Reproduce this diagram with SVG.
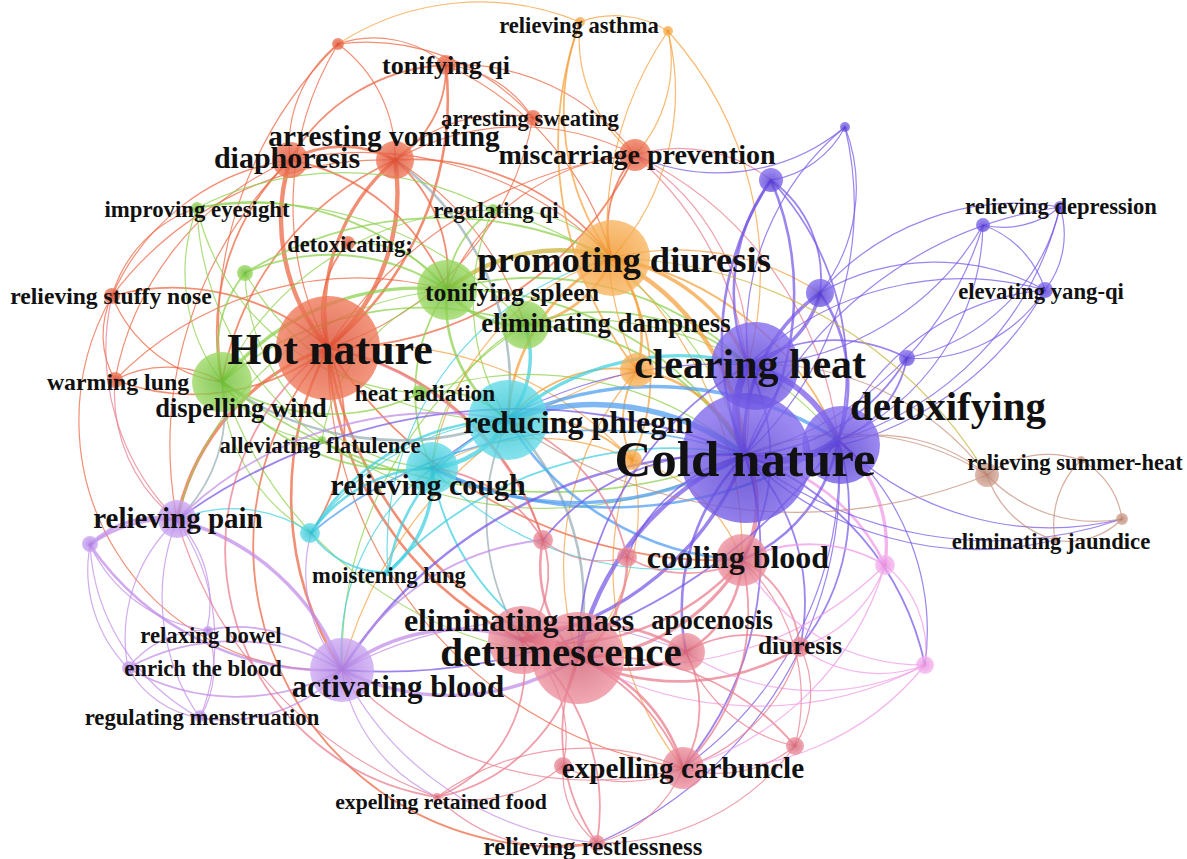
<svg xmlns="http://www.w3.org/2000/svg" width="1187" height="859" viewBox="0 0 1187 859">
<defs>
<radialGradient id="gR"><stop offset="0" stop-color="#d9452a"/><stop offset="1" stop-color="#ef7858"/></radialGradient>
<radialGradient id="gG"><stop offset="0" stop-color="#64b82a"/><stop offset="1" stop-color="#9bd862"/></radialGradient>
<radialGradient id="gO"><stop offset="0" stop-color="#f0901e"/><stop offset="1" stop-color="#f8b460"/></radialGradient>
<radialGradient id="gC"><stop offset="0" stop-color="#22bccc"/><stop offset="1" stop-color="#62dbe8"/></radialGradient>
<radialGradient id="gP" cx="0.5" cy="0.6"><stop offset="0" stop-color="#4a32cc"/><stop offset="1" stop-color="#7e66ec"/></radialGradient>
<radialGradient id="gL"><stop offset="0" stop-color="#a878e0"/><stop offset="1" stop-color="#cba6f2"/></radialGradient>
<radialGradient id="gK"><stop offset="0" stop-color="#cf5a6e"/><stop offset="1" stop-color="#ee909e"/></radialGradient>
<radialGradient id="gM"><stop offset="0" stop-color="#e48ada"/><stop offset="1" stop-color="#f6b6f0"/></radialGradient>
<radialGradient id="gB"><stop offset="0" stop-color="#b27a66"/><stop offset="1" stop-color="#d4a694"/></radialGradient>
<style>
#edges path{fill:none;stroke-opacity:.72;stroke-linecap:round}
.r{stroke:#ec6440}.g{stroke:#8cd04a}.o{stroke:#f5a03a}.c{stroke:#3ccee0}.p{stroke:#7656e6}
.l{stroke:#c08ae8}.k{stroke:#e97a8a}.m{stroke:#f098e6}.n{stroke:#c58e7a}.y{stroke:#c8b030}
.s{stroke:#98adb6}.u{stroke:#4c9cf0}
.w1{stroke-width:1.2}.w2{stroke-width:1.8}.w3{stroke-width:2.6}.w4{stroke-width:3.4}.w5{stroke-width:4.4}.w6{stroke-width:5.6}.w8{stroke-width:7.5}
.nd circle{fill-opacity:.78}
.nd text{font-family:"Liberation Serif","Times New Roman",serif;font-weight:bold;fill:#111;text-anchor:middle}
</style>
</defs>
<rect width="1187" height="859" fill="#fff"/>
<g id="edges">
<!-- red -->
<path class="r w5" d="M328 348A200 200 0 0 1 290 160"/>
<path class="r w5" d="M328 348A210 210 0 0 0 395 160"/>
<path class="r w4" d="M328 348A200 200 0 0 1 395 160"/>
<path class="r w3" d="M328 348A320 320 0 0 0 446 65"/>
<path class="r w2" d="M328 348A230 230 0 0 0 112 296"/>
<path class="r w2" d="M328 348A220 220 0 0 1 115 380"/>
<path class="r w2" d="M328 348A105 105 0 0 1 348 243"/>
<path class="r w1" d="M328 348A300 300 0 0 0 533 118"/>
<path class="r w1" d="M328 348A310 310 0 0 1 338 44"/>
<path class="r w2" d="M328 348A340 340 0 0 0 635 155"/>
<path class="r w3" d="M328 348A320 320 0 0 0 342 670"/>
<path class="r w4" d="M328 348A230 230 0 0 0 177 520"/>
<path class="r w3" d="M328 348A400 400 0 0 0 578 658"/>
<path class="r w3" d="M328 348A340 340 0 0 0 522 640"/>
<path class="r w2" d="M328 348A470 470 0 0 0 742 560"/>
<path class="r w2" d="M328 348A300 300 0 0 0 597 843"/>
<path class="r w2" d="M328 348A280 280 0 0 1 543 540"/>
<path class="r w1" d="M328 348A420 420 0 0 0 683 768"/>
<path class="r w2" d="M328 348A190 190 0 0 1 311 533"/>
<path class="r w3" d="M290 160A110 110 0 0 1 395 160"/>
<path class="r w2" d="M290 160A190 190 0 0 1 446 65"/>
<path class="r w1" d="M290 160A130 130 0 0 1 338 44"/>
<path class="r w1" d="M290 160A230 230 0 0 0 112 296"/>
<path class="r w1" d="M290 160A300 300 0 0 0 115 380"/>
<path class="r w2" d="M290 160A240 240 0 0 0 222 382"/>
<path class="r w2" d="M290 160A210 210 0 0 1 447 290"/>
<path class="r w1" d="M290 160A350 350 0 0 1 612 258"/>
<path class="r w1" d="M290 160A400 400 0 0 0 177 520"/>
<path class="r w2" d="M395 160A110 110 0 0 0 446 65"/>
<path class="r w1" d="M395 160A140 140 0 0 0 338 44"/>
<path class="r w2" d="M395 160A250 250 0 0 1 612 258"/>
<path class="r w2" d="M395 160A150 150 0 0 1 447 290"/>
<path class="r w2" d="M395 160A300 300 0 0 0 222 382"/>
<path class="r w1" d="M395 160A250 250 0 0 1 635 155"/>
<path class="s w3" d="M395 160A280 280 0 0 1 508 420"/>
<path class="r w1" d="M395 160A150 150 0 0 1 533 118"/>
<path class="r w1" d="M395 160A340 340 0 0 0 112 296"/>
<path class="r w1" d="M395 160A300 300 0 0 1 525 325"/>
<path class="r w1" d="M446 65A110 110 0 0 0 338 44"/>
<path class="r w1" d="M446 65A115 115 0 0 1 533 118"/>
<path class="r w1" d="M446 65A220 220 0 0 1 635 155"/>
<path class="r w1" d="M446 65A300 300 0 0 1 612 258"/>
<path class="o w1" d="M338 44A260 260 0 0 1 580 22"/>
<path class="r w1" d="M338 44A220 220 0 0 1 533 118"/>
<path class="r w1" d="M338 44A400 400 0 0 0 222 382"/>
<path class="r w2" d="M635 155A110 110 0 0 0 612 258"/>
<path class="k w1" d="M635 155A330 330 0 0 1 745 455"/>
<path class="k w1" d="M635 155A240 240 0 0 1 748 365"/>
<path class="k w1" d="M635 155A150 150 0 0 1 771 180"/>
<path class="k w1" d="M635 155A360 360 0 0 1 838 440"/>
<path class="r w1" d="M635 155A220 220 0 0 0 447 290"/>
<path class="r w1" d="M635 155A420 420 0 0 0 328 348"/>
<path class="r w1" d="M112 296A90 90 0 0 0 115 380"/>
<path class="r w1" d="M112 296A140 140 0 0 0 222 382"/>
<path class="r w1" d="M112 296A130 130 0 0 1 197 208"/>
<path class="k w1" d="M112 296A240 240 0 0 0 177 520"/>
<path class="r w1" d="M112 296A250 250 0 0 0 342 670"/>
<path class="r w1" d="M115 380A110 110 0 0 1 222 382"/>
<path class="k w1" d="M115 380A160 160 0 0 0 177 520"/>
<path class="r w1" d="M115 380A340 340 0 0 1 447 290"/>
<!-- green -->
<path class="g w4" d="M447 290A90 90 0 0 0 525 325"/>
<path class="y w5" d="M447 290A180 180 0 0 1 612 258"/>
<path class="g w4" d="M447 290A250 250 0 0 0 222 382"/>
<path class="g w3" d="M447 290A140 140 0 0 0 508 420"/>
<path class="g w2" d="M447 290A180 180 0 0 0 432 468"/>
<path class="g w2" d="M447 290A330 330 0 0 1 745 455"/>
<path class="g w2" d="M447 290A310 310 0 0 1 748 365"/>
<path class="g w2" d="M447 290A260 260 0 0 0 197 208"/>
<path class="g w2" d="M447 290A100 100 0 0 1 493 210"/>
<path class="g w2" d="M447 290A210 210 0 0 0 245 273"/>
<path class="g w1" d="M447 290A110 110 0 0 0 348 243"/>
<path class="g w1" d="M447 290A190 190 0 0 0 322 440"/>
<path class="g w1" d="M447 290A300 300 0 0 0 177 520"/>
<path class="o w3" d="M525 325A110 110 0 0 0 612 258"/>
<path class="c w4" d="M525 325A100 100 0 0 1 508 420"/>
<path class="g w2" d="M525 325A260 260 0 0 1 745 455"/>
<path class="g w2" d="M525 325A230 230 0 0 1 748 365"/>
<path class="g w2" d="M525 325A310 310 0 0 0 222 382"/>
<path class="g w1" d="M525 325A170 170 0 0 0 432 468"/>
<path class="g w1" d="M525 325A330 330 0 0 1 838 440"/>
<path class="g w1" d="M525 325A400 400 0 0 0 342 670"/>
<path class="g w1" d="M222 382A180 180 0 0 1 197 208"/>
<path class="g w2" d="M222 382A120 120 0 0 1 245 273"/>
<path class="s w3" d="M222 382A300 300 0 0 0 508 420"/>
<path class="g w2" d="M222 382A230 230 0 0 0 432 468"/>
<path class="g w2" d="M222 382A200 200 0 0 0 420 393"/>
<path class="g w1" d="M222 382A120 120 0 0 0 322 440"/>
<path class="g w2" d="M222 382A540 540 0 0 0 745 455"/>
<path class="s w2" d="M222 382A150 150 0 0 1 177 520"/>
<path class="g w1" d="M222 382A180 180 0 0 0 311 533"/>
<path class="g w1" d="M222 382A400 400 0 0 0 578 658"/>
<path class="g w1" d="M222 382A300 300 0 0 1 493 210"/>
<path class="g w1" d="M197 208A320 320 0 0 1 493 210"/>
<path class="g w1" d="M197 208A360 360 0 0 1 525 325"/>
<path class="g w1" d="M197 208A300 300 0 0 0 322 440"/>
<path class="g w1" d="M197 208A240 240 0 0 0 420 393"/>
<path class="g w2" d="M245 273A380 380 0 0 1 612 258"/>
<path class="g w1" d="M245 273A300 300 0 0 0 508 420"/>
<path class="g w1" d="M245 273A200 200 0 0 0 432 468"/>
<path class="g w1" d="M493 210A140 140 0 0 1 612 258"/>
<path class="g w1" d="M493 210A350 350 0 0 1 745 455"/>
<path class="g w1" d="M493 210A220 220 0 0 0 508 420"/>
<path class="g w2" d="M420 393A100 100 0 0 1 508 420"/>
<path class="g w1" d="M322 440A130 130 0 0 0 432 468"/>
<path class="g w1" d="M322 440A400 400 0 0 0 745 455"/>
<path class="g w1" d="M420 393A330 330 0 0 1 745 455"/>
<!-- orange -->
<path class="o w4" d="M612 258A180 180 0 0 1 748 365"/>
<path class="o w5" d="M612 258A240 240 0 0 1 745 455"/>
<path class="o w3" d="M612 258A120 120 0 0 1 637 370"/>
<path class="o w2" d="M612 258A250 250 0 0 1 580 22"/>
<path class="o w1" d="M612 258A250 250 0 0 0 668 31"/>
<path class="o w3" d="M612 258A190 190 0 0 0 508 420"/>
<path class="o w2" d="M612 258A300 300 0 0 1 838 440"/>
<path class="o w2" d="M612 258A200 200 0 0 1 632 460"/>
<path class="o w1" d="M612 258A260 260 0 0 0 432 468"/>
<path class="o w1" d="M612 258A400 400 0 0 1 742 560"/>
<path class="o w1" d="M612 258A260 260 0 0 1 820 293"/>
<path class="o w1" d="M580 22A100 100 0 0 1 668 31"/>
<path class="o w1" d="M580 22A150 150 0 0 0 635 155"/>
<path class="o w2" d="M580 22A360 360 0 0 0 637 370"/>
<path class="o w1" d="M668 31A350 350 0 0 0 637 370"/>
<path class="o w1" d="M668 31A360 360 0 0 1 748 365"/>
<path class="o w1" d="M668 31A140 140 0 0 1 635 155"/>
<path class="o w3" d="M637 370A140 140 0 0 1 745 455"/>
<path class="o w2" d="M637 370A140 140 0 0 0 508 420"/>
<path class="o w2" d="M637 370A95 95 0 0 0 632 460"/>
<path class="o w1" d="M637 370A420 420 0 0 0 342 670"/>
<path class="o w1" d="M637 370A300 300 0 0 0 578 658"/>
<path class="o w2" d="M632 460A140 140 0 0 0 508 420"/>
<path class="o w1" d="M632 460A210 210 0 0 0 432 468"/>
<path class="o w1" d="M632 460A210 210 0 0 1 578 658"/>
<path class="o w1" d="M632 460A160 160 0 0 1 742 560"/>
<path class="o w1" d="M632 460A320 320 0 0 0 683 768"/>
<path class="o w1" d="M632 460A350 350 0 0 0 328 348"/>
<!-- cyan / blue -->
<path class="u w6" d="M508 420A250 250 0 0 1 745 455"/>
<path class="c w4" d="M508 420A260 260 0 0 1 748 365"/>
<path class="c w5" d="M508 420A100 100 0 0 1 432 468"/>
<path class="c w3" d="M508 420A230 230 0 0 0 311 533"/>
<path class="c w3" d="M508 420A200 200 0 0 0 388 572"/>
<path class="u w4" d="M508 420A340 340 0 0 1 838 440"/>
<path class="s w3" d="M508 420A260 260 0 0 1 578 658"/>
<path class="s w2" d="M508 420A230 230 0 0 0 522 640"/>
<path class="u w3" d="M508 420A290 290 0 0 0 742 560"/>
<path class="c w3" d="M432 468A150 150 0 0 0 311 533"/>
<path class="c w4" d="M432 468A120 120 0 0 1 388 572"/>
<path class="u w4" d="M432 468A320 320 0 0 0 745 455"/>
<path class="c w2" d="M432 468A250 250 0 0 0 578 658"/>
<path class="c w1" d="M432 468A230 230 0 0 0 342 670"/>
<path class="c w2" d="M311 533A90 90 0 0 0 388 572"/>
<path class="c w1" d="M311 533A140 140 0 0 0 177 520"/>
<path class="u w2" d="M311 533A450 450 0 0 1 745 455"/>
<path class="c w2" d="M388 572A390 390 0 0 1 745 455"/>
<path class="u w3" d="M432 468A420 420 0 0 0 838 440"/>
<path class="c w1" d="M311 533A260 260 0 0 1 508 420"/>
<path class="c w1" d="M388 572A300 300 0 0 1 612 258"/>
<path class="c w1" d="M432 468A320 320 0 0 0 742 560"/>
<!-- purple -->
<path class="p w8" d="M745 455A100 100 0 0 1 748 365"/>
<path class="p w8" d="M745 455A100 100 0 0 0 838 440"/>
<path class="p w6" d="M748 365A130 130 0 0 1 838 440"/>
<path class="p w4" d="M745 455A180 180 0 0 1 820 293"/>
<path class="p w3" d="M745 455A290 290 0 0 1 771 180"/>
<path class="p w3" d="M745 455A290 290 0 0 0 771 180"/>
<path class="p w4" d="M748 365A100 100 0 0 0 820 293"/>
<path class="p w3" d="M748 365A190 190 0 0 1 771 180"/>
<path class="p w3" d="M838 440A160 160 0 0 0 820 293"/>
<path class="p w2" d="M838 440A280 280 0 0 0 771 180"/>
<path class="p w2" d="M820 293A120 120 0 0 0 771 180"/>
<path class="p w1" d="M771 180A100 100 0 0 0 845 127"/>
<path class="p w1" d="M748 365A270 270 0 0 1 845 127"/>
<path class="p w1" d="M820 293A170 170 0 0 0 845 127"/>
<path class="p w1" d="M745 455A340 340 0 0 0 845 127"/>
<path class="p w1" d="M635 155A200 200 0 0 0 845 127"/>
<path class="p w1" d="M745 455A340 340 0 0 0 983 225"/>
<path class="p w1" d="M745 455A400 400 0 0 1 1060 207"/>
<path class="p w1" d="M745 455A330 330 0 0 0 1045 290"/>
<path class="p w1" d="M748 365A280 280 0 0 0 983 225"/>
<path class="p w1" d="M748 365A310 310 0 0 1 1045 290"/>
<path class="p w1" d="M838 440A240 240 0 0 0 983 225"/>
<path class="p w1" d="M838 440A320 320 0 0 0 1060 207"/>
<path class="p w1" d="M838 440A250 250 0 0 1 1045 290"/>
<path class="p w1" d="M983 225A90 90 0 0 0 1060 207"/>
<path class="p w1" d="M983 225A100 100 0 0 1 1045 290"/>
<path class="p w1" d="M1060 207A90 90 0 0 1 1045 290"/>
<path class="p w1" d="M820 293A230 230 0 0 1 1045 290"/>
<path class="p w1" d="M820 293A260 260 0 0 1 1060 207"/>
<path class="p w2" d="M745 455A200 200 0 0 0 907 358"/>
<path class="p w2" d="M748 365A160 160 0 0 1 907 358"/>
<path class="p w2" d="M838 440A110 110 0 0 0 907 358"/>
<path class="p w1" d="M907 358A150 150 0 0 0 1045 290"/>
<path class="p w1" d="M907 358A200 200 0 0 0 1060 207"/>
<path class="k w5" d="M745 455A110 110 0 0 1 742 560"/>
<path class="p w5" d="M745 455A280 280 0 0 0 578 658"/>
<path class="p w4" d="M745 455A300 300 0 0 1 522 640"/>
<path class="p w3" d="M745 455A460 460 0 0 0 342 670"/>
<path class="p w3" d="M745 455A220 220 0 0 0 686 652"/>
<path class="p w2" d="M745 455A210 210 0 0 1 800 647"/>
<path class="p w2" d="M745 455A330 330 0 0 1 683 768"/>
<path class="m w3" d="M745 455A200 200 0 0 1 885 565"/>
<path class="p w2" d="M745 455A290 290 0 0 1 925 665"/>
<path class="p w2" d="M745 455A580 580 0 0 0 177 520"/>
<path class="p w3" d="M838 440A160 160 0 0 1 742 560"/>
<path class="m w4" d="M838 440A140 140 0 0 1 885 565"/>
<path class="p w2" d="M838 440A220 220 0 0 1 800 647"/>
<path class="p w1" d="M838 440A250 250 0 0 1 925 665"/>
<path class="n w1" d="M838 440A170 170 0 0 1 987 475"/>
<path class="n w1" d="M745 455A260 260 0 0 1 987 475"/>
<path class="p w1" d="M745 455A400 400 0 0 0 1122 519"/>
<path class="p w1" d="M838 440A300 300 0 0 0 1122 519"/>
<path class="p w2" d="M748 365A340 340 0 0 0 578 658"/>
<path class="p w2" d="M748 365A200 200 0 0 1 742 560"/>
<path class="p w2" d="M838 440A560 560 0 0 1 342 670"/>
<path class="p w2" d="M745 455A230 230 0 0 0 543 540"/>
<path class="p w2" d="M745 455A170 170 0 0 0 627 557"/>
<path class="p w1" d="M838 440A370 370 0 0 1 683 768"/>
<path class="p w1" d="M838 440A400 400 0 0 1 597 843"/>
<path class="p w1" d="M748 365A450 450 0 0 0 432 468"/>
<!-- lavender -->
<path class="l w4" d="M177 520A95 95 0 0 0 90 545"/>
<path class="l w4" d="M177 520A240 240 0 0 1 342 670"/>
<path class="l w1" d="M177 520A160 160 0 0 0 128 668"/>
<path class="l w1" d="M177 520A210 210 0 0 1 200 718"/>
<path class="l w1" d="M177 520A210 210 0 0 0 200 718"/>
<path class="l w1" d="M177 520A120 120 0 0 1 207 630"/>
<path class="l w3" d="M90 545A290 290 0 0 0 342 670"/>
<path class="l w1" d="M90 545A140 140 0 0 0 128 668"/>
<path class="l w1" d="M90 545A210 210 0 0 0 200 718"/>
<path class="l w1" d="M90 545A150 150 0 0 0 207 630"/>
<path class="l w3" d="M90 545A130 130 0 0 1 177 520"/>
<path class="l w2" d="M342 670A220 220 0 0 0 128 668"/>
<path class="l w2" d="M342 670A220 220 0 0 1 128 668"/>
<path class="l w2" d="M342 670A150 150 0 0 0 207 630"/>
<path class="l w2" d="M342 670A160 160 0 0 1 200 718"/>
<path class="l w1" d="M128 668A100 100 0 0 0 200 718"/>
<path class="l w1" d="M207 630A100 100 0 0 1 200 718"/>
<path class="l w1" d="M128 668A100 100 0 0 1 207 630"/>
<path class="l w4" d="M342 670A190 190 0 0 1 522 640"/>
<path class="l w4" d="M342 670A240 240 0 0 0 578 658"/>
<path class="l w1" d="M342 670A170 170 0 0 0 437 797"/>
<path class="l w1" d="M342 670A320 320 0 0 0 597 843"/>
<path class="l w2" d="M342 670A260 260 0 0 1 543 540"/>
<path class="l w1" d="M342 670A150 150 0 0 1 311 533"/>
<path class="l w2" d="M177 520A370 370 0 0 1 508 420"/>
<path class="l w1" d="M342 670A400 400 0 0 1 686 652"/>
<!-- pink -->
<path class="k w6" d="M578 658A60 60 0 0 0 522 640"/>
<path class="k w4" d="M578 658A200 200 0 0 0 742 560"/>
<path class="k w4" d="M578 658A110 110 0 0 0 686 652"/>
<path class="k w3" d="M578 658A230 230 0 0 0 800 647"/>
<path class="k w3" d="M578 658A160 160 0 0 1 683 768"/>
<path class="k w2" d="M578 658A180 180 0 0 1 437 797"/>
<path class="k w2" d="M578 658A190 190 0 0 0 597 843"/>
<path class="k w2" d="M578 658A250 250 0 0 1 795 746"/>
<path class="k w3" d="M578 658A130 130 0 0 1 543 540"/>
<path class="k w3" d="M578 658A120 120 0 0 0 627 557"/>
<path class="m w1" d="M578 658A340 340 0 0 0 885 565"/>
<path class="m w1" d="M578 658A360 360 0 0 0 925 665"/>
<path class="k w3" d="M522 640A240 240 0 0 0 742 560"/>
<path class="k w3" d="M522 640A170 170 0 0 1 686 652"/>
<path class="k w2" d="M522 640A210 210 0 0 1 683 768"/>
<path class="k w2" d="M522 640A140 140 0 0 1 437 797"/>
<path class="k w2" d="M522 640A220 220 0 0 1 597 843"/>
<path class="k w2" d="M522 640A100 100 0 0 0 543 540"/>
<path class="k w1" d="M522 640A130 130 0 0 1 563 766"/>
<path class="k w3" d="M742 560A110 110 0 0 1 686 652"/>
<path class="k w2" d="M742 560A110 110 0 0 1 800 647"/>
<path class="k w2" d="M742 560A220 220 0 0 1 683 768"/>
<path class="k w1" d="M742 560A190 190 0 0 1 795 746"/>
<path class="m w2" d="M742 560A150 150 0 0 1 885 565"/>
<path class="m w1" d="M742 560A210 210 0 0 0 925 665"/>
<path class="k w2" d="M742 560A120 120 0 0 1 627 557"/>
<path class="k w2" d="M686 652A120 120 0 0 1 800 647"/>
<path class="k w2" d="M686 652A120 120 0 0 1 683 768"/>
<path class="k w1" d="M686 652A150 150 0 0 0 795 746"/>
<path class="m w1" d="M686 652A240 240 0 0 0 925 665"/>
<path class="k w1" d="M800 647A180 180 0 0 1 683 768"/>
<path class="k w1" d="M800 647A100 100 0 0 1 795 746"/>
<path class="m w1" d="M800 647A130 130 0 0 0 885 565"/>
<path class="k w1" d="M683 768A120 120 0 0 0 795 746"/>
<path class="k w1" d="M683 768A125 125 0 0 1 597 843"/>
<path class="k w1" d="M683 768A250 250 0 0 0 437 797"/>
<path class="k w1" d="M437 797A170 170 0 0 0 597 843"/>
<path class="k w1" d="M795 746A240 240 0 0 1 597 843"/>
<path class="m w1" d="M885 565A110 110 0 0 1 925 665"/>
<path class="m w1" d="M885 565A300 300 0 0 1 683 768"/>
<path class="m w1" d="M925 665A280 280 0 0 1 683 768"/>
<path class="m w1" d="M800 647A130 130 0 0 0 925 665"/>
<path class="k w1" d="M543 540A90 90 0 0 0 627 557"/>
<path class="k w2" d="M543 540A150 150 0 0 0 432 468"/>
<path class="k w2" d="M627 557A190 190 0 0 0 508 420"/>
<path class="k w2" d="M543 540A290 290 0 0 0 328 348"/>
<path class="k w1" d="M563 766A130 130 0 0 0 683 768"/>
<path class="k w1" d="M563 766A150 150 0 0 1 437 797"/>
<path class="k w1" d="M563 766A90 90 0 0 0 597 843"/>
<path class="k w1" d="M342 670A340 340 0 0 0 683 768"/>
<path class="k w1" d="M177 520A420 420 0 0 0 437 797"/>
<path class="k w2" d="M328 348A250 250 0 0 0 437 797"/>
<!-- brown -->
<path class="n w1" d="M987 475A100 100 0 0 1 1081 460"/>
<path class="n w1" d="M987 475A150 150 0 0 0 1122 519"/>
<path class="n w1" d="M987 475A100 100 0 0 0 1055 540"/>
<path class="n w1" d="M1081 460A80 80 0 0 1 1122 519"/>
<path class="n w1" d="M1081 460A90 90 0 0 0 1055 540"/>
<path class="n w1" d="M1122 519A75 75 0 0 1 1055 540"/>
<path class="y w1" d="M612 258A450 450 0 0 1 987 475"/>
<path class="n w1" d="M748 365A280 280 0 0 1 987 475"/>
<path class="n w1" d="M508 420A500 500 0 0 0 987 475"/>
<path class="p w1" d="M745 455A330 330 0 0 0 1055 540"/>
</g>
<g id="nodes" class="nd">
<g id="n-cold-nature"><circle cx="746" cy="458" r="65" fill="url(#gP)"/></g>
<g id="n-clearing-heat"><circle cx="755" cy="366" r="44" fill="url(#gP)"/></g>
<g id="n-detoxifying"><circle cx="841" cy="445" r="39" fill="url(#gP)"/></g>
<g id="n-hot-nature"><circle cx="328" cy="348" r="52" fill="url(#gR)"/></g>
<g id="n-detumescence"><circle cx="578" cy="658" r="46" fill="url(#gK)"/></g>
<g id="n-eliminating-mass"><circle cx="522" cy="640" r="34" fill="url(#gK)"/></g>
<g id="n-reducing-phlegm"><circle cx="508" cy="420" r="40" fill="url(#gC)"/></g>
<g id="n-promoting-diuresis"><circle cx="612" cy="258" r="38" fill="url(#gO)"/></g>
<g id="n-activating-blood"><circle cx="342" cy="670" r="32" fill="url(#gL)"/></g>
<g id="n-tonifying-spleen"><circle cx="447" cy="290" r="30" fill="url(#gG)"/></g>
<g id="n-dispelling-wind"><circle cx="222" cy="382" r="30" fill="url(#gG)"/></g>
<g id="n-relieving-cough"><circle cx="432" cy="468" r="26" fill="url(#gC)"/></g>
<g id="n-cooling-blood"><circle cx="742" cy="560" r="26" fill="url(#gK)"/></g>
<g id="n-eliminating-dampness"><circle cx="525" cy="325" r="24" fill="url(#gG)"/></g>
<g id="n-expelling-carbuncle"><circle cx="683" cy="768" r="21" fill="url(#gK)"/></g>
<g id="n-apocenosis"><circle cx="686" cy="652" r="19" fill="url(#gK)"/></g>
<g id="n-relieving-pain"><circle cx="177" cy="519" r="19" fill="url(#gL)"/></g>
<g id="n-arresting-vomiting"><circle cx="395" cy="160" r="19" fill="url(#gR)"/></g>
<g id="n-diaphoresis"><circle cx="290" cy="160" r="18" fill="url(#gR)"/></g>
<g id="n-orange-1"><circle cx="637" cy="370" r="17" fill="url(#gO)"/></g>
<g id="n-miscarriage-prevention"><circle cx="635" cy="155" r="16" fill="url(#gR)"/></g>
<g id="n-purple-1"><circle cx="820" cy="293" r="14" fill="url(#gP)"/></g>
<g id="n-purple-2"><circle cx="771" cy="180" r="12" fill="url(#gP)"/></g>
<g id="n-relieving-summer-heat"><circle cx="987" cy="475" r="12" fill="url(#gB)"/></g>
<g id="n-tonifying-qi"><circle cx="446" cy="65" r="10" fill="url(#gR)"/></g>
<g id="n-orange-2"><circle cx="632" cy="460" r="10" fill="url(#gO)"/></g>
<g id="n-cyan-1"><circle cx="310" cy="533" r="10" fill="url(#gC)"/></g>
<g id="n-diuresis"><circle cx="800" cy="647" r="10" fill="url(#gK)"/></g>
<g id="n-pink-1"><circle cx="795" cy="746" r="9" fill="url(#gK)"/></g>
<g id="n-pink-2"><circle cx="543" cy="540" r="10" fill="url(#gK)"/></g>
<g id="n-pink-3"><circle cx="627" cy="557" r="10" fill="url(#gK)"/></g>
<g id="n-pink-4"><circle cx="563" cy="766" r="9" fill="url(#gK)"/></g>
<g id="n-magenta-1"><circle cx="885" cy="565" r="10" fill="url(#gM)"/></g>
<g id="n-magenta-2"><circle cx="925" cy="665" r="9" fill="url(#gM)"/></g>
<g id="n-green-1"><circle cx="245" cy="273" r="8" fill="url(#gG)"/></g>
<g id="n-heat-radiation"><circle cx="420" cy="393" r="8" fill="url(#gG)"/></g>
<g id="n-purple-4"><circle cx="907" cy="358" r="8" fill="url(#gP)"/></g>
<g id="n-elevating-yang-qi"><circle cx="1045" cy="290" r="8" fill="url(#gP)"/></g>
<g id="n-purple-rd1"><circle cx="983" cy="225" r="7" fill="url(#gP)"/></g>
<g id="n-lavender-1"><circle cx="90" cy="544" r="8" fill="url(#gL)"/></g>
<g id="n-relieving-stuffy-nose"><circle cx="112" cy="296" r="8" fill="url(#gR)"/></g>
<g id="n-warming-lung"><circle cx="115" cy="380" r="8" fill="url(#gR)"/></g>
<g id="n-arresting-sweating"><circle cx="533" cy="118" r="8" fill="url(#gR)"/></g>
<g id="n-relieving-restlessness"><circle cx="597" cy="843" r="8" fill="url(#gK)"/></g>
<g id="n-detoxicating"><circle cx="348" cy="243" r="7" fill="url(#gR)"/></g>
<g id="n-enrich-the-blood"><circle cx="129" cy="668" r="7" fill="url(#gL)"/></g>
<g id="n-red-1"><circle cx="338" cy="44" r="6" fill="url(#gR)"/></g>
<g id="n-improving-eyesight"><circle cx="197" cy="208" r="6" fill="url(#gG)"/></g>
<g id="n-regulating-qi"><circle cx="493" cy="210" r="6" fill="url(#gG)"/></g>
<g id="n-regulating-menstruation"><circle cx="200" cy="716" r="6" fill="url(#gL)"/></g>
<g id="n-relaxing-bowel"><circle cx="208" cy="631" r="5" fill="url(#gL)"/></g>
<g id="n-eliminating-jaundice"><circle cx="1122" cy="519" r="6" fill="url(#gB)"/></g>
<g id="n-relieving-depression"><circle cx="1060" cy="207" r="6" fill="url(#gP)"/></g>
<g id="n-relieving-asthma"><circle cx="580" cy="22" r="5" fill="url(#gO)"/></g>
<g id="n-orange-ra2"><circle cx="668" cy="31" r="5" fill="url(#gO)"/></g>
<g id="n-purple-3"><circle cx="845" cy="127" r="5" fill="url(#gP)"/></g>
<g id="n-alleviating-flatulence"><circle cx="322" cy="440" r="4" fill="url(#gG)"/></g>
<g id="n-moistening-lung"><circle cx="388" cy="572" r="4" fill="url(#gC)"/></g>
<g id="n-expelling-retained-food"><circle cx="437" cy="797" r="4" fill="url(#gK)"/></g>
<g id="n-brown-1"><circle cx="1081" cy="460" r="4" fill="url(#gB)"/></g>
<g id="n-brown-2"><circle cx="1055" cy="540" r="4" fill="url(#gB)"/></g>
</g>
<g id="labels" class="nd">
<text x="579" y="33" font-size="22.6">relieving asthma</text>
<text x="446" y="74" font-size="26">tonifying qi</text>
<text x="530" y="126" font-size="22.7">arresting sweating</text>
<text x="384" y="146" font-size="29.3">arresting vomiting</text>
<text x="287" y="168" font-size="30">diaphoresis</text>
<text x="637" y="164" font-size="28">miscarriage prevention</text>
<text x="197" y="217" font-size="22.8">improving eyesight</text>
<text x="496" y="218" font-size="23">regulating qi</text>
<text x="350" y="252" font-size="22.6">detoxicating;</text>
<text x="624" y="272" font-size="36.5">promoting diuresis</text>
<text x="111" y="304" font-size="23.6">relieving stuffy nose</text>
<text x="512" y="301" font-size="25.8">tonifying spleen</text>
<text x="606" y="332" font-size="26.8">eliminating dampness</text>
<text x="330" y="364" font-size="44">Hot nature</text>
<text x="750" y="378" font-size="42">clearing heat</text>
<text x="118" y="390" font-size="23.8">warming lung</text>
<text x="425" y="401" font-size="23.3">heat radiation</text>
<text x="241" y="417" font-size="26.5">dispelling wind</text>
<text x="948" y="420" font-size="41">detoxifying</text>
<text x="578" y="433" font-size="32">reducing phlegm</text>
<text x="320" y="453" font-size="22.7">alleviating flatulence</text>
<text x="745" y="476" font-size="51">Cold nature</text>
<text x="1075" y="470" font-size="22.5">relieving summer-heat</text>
<text x="428" y="495" font-size="30">relieving cough</text>
<text x="178" y="528" font-size="29">relieving pain</text>
<text x="1051" y="549" font-size="22.7">eliminating jaundice</text>
<text x="738" y="568" font-size="32">cooling blood</text>
<text x="389" y="583" font-size="22.6">moistening lung</text>
<text x="519" y="631" font-size="32">eliminating mass</text>
<text x="712" y="629" font-size="26.7">apocenosis</text>
<text x="211" y="643" font-size="22.7">relaxing bowel</text>
<text x="800" y="654" font-size="25.4">diuresis</text>
<text x="561" y="666" font-size="41">detumescence</text>
<text x="203" y="676" font-size="22.7">enrich the blood</text>
<text x="398" y="697" font-size="31">activating blood</text>
<text x="202" y="725" font-size="22.7">regulating menstruation</text>
<text x="683" y="778" font-size="29.2">expelling carbuncle</text>
<text x="441" y="809" font-size="21.7">expelling retained food</text>
<text x="593" y="855" font-size="24.8">relieving restlessness</text>
<text x="1061" y="214" font-size="22.6">relieving depression</text>
<text x="1041" y="299" font-size="22.7">elevating yang-qi</text>
</g>
</svg>
